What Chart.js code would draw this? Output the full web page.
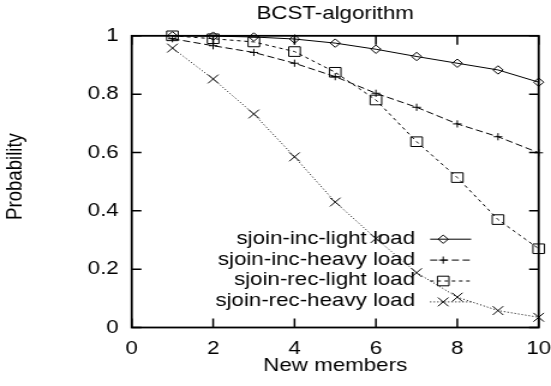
<!DOCTYPE html>
<html>
<head>
<meta charset="utf-8">
<script src="https://cdn.jsdelivr.net/npm/chart.js@4/dist/chart.umd.min.js"></script>
<style>
  html, body { margin: 0; padding: 0; background: #fff; overflow: hidden; }
</style>
</head>
<body>
<!-- gnuplot output was stretched sideways, so the bitmap is widened a bit -->
<canvas id="c" width="459" height="386" style="width:551px;height:386px;display:block"></canvas>
<script>
// ---- data ----
const members = [1, 2, 3, 4, 5, 6, 7, 8, 9, 10];
const incLight = [1.0, 0.999, 0.996, 0.989, 0.975, 0.954, 0.929, 0.906, 0.883, 0.841];
const incHeavy = [0.99, 0.966, 0.943, 0.906, 0.86, 0.803, 0.755, 0.698, 0.654, 0.599];
const recLight = [1.0, 0.99, 0.979, 0.946, 0.875, 0.78, 0.637, 0.514, 0.37, 0.27];
const recHeavy = [0.958, 0.852, 0.732, 0.585, 0.43, 0.305, 0.188, 0.104, 0.058, 0.035];
const seriesLabels = ['sjoin-inc-light load', 'sjoin-inc-heavy load', 'sjoin-rec-light load', 'sjoin-rec-heavy load'];

const FONT = { family: "'Liberation Sans', Arial, sans-serif", size: 18.6, weight: 'normal' };
Chart.defaults.color = '#000';
Chart.defaults.font.family = FONT.family;

const pts = ys => members.map((x, i) => ({ x, y: ys[i] }));

function series(label, ys, dash, style, radius) {
  return {
    label,
    data: pts(ys),
    borderColor: '#000',
    borderWidth: 1,
    borderDash: dash,
    tension: 0,
    fill: false,
    clip: false,
    pointStyle: style,
    pointRadius: radius,
    pointBorderColor: '#000',
    pointBackgroundColor: 'rgba(0,0,0,0)',
    pointBorderWidth: 1,
  };
}

// gnuplot style frame with inward mirrored ticks
const framePlugin = {
  id: 'frame',
  afterDatasetsDraw(chart) {
    const { ctx, chartArea: { left, right, top, bottom } } = chart;
    const xs = chart.scales.x, ys = chart.scales.y;
    ctx.save();
    ctx.strokeStyle = '#000';
    ctx.lineWidth = 1.8;
    ctx.setLineDash([]);
    ctx.strokeRect(left, top, right - left, bottom - top);
    ctx.lineWidth = 1.5;
    ctx.beginPath();
    xs.ticks.forEach(t => {
      const px = xs.getPixelForValue(t.value);
      ctx.moveTo(px, bottom); ctx.lineTo(px, bottom - 9);
      ctx.moveTo(px, top); ctx.lineTo(px, top + 9);
    });
    ys.ticks.forEach(t => {
      const py = ys.getPixelForValue(t.value);
      ctx.moveTo(left, py); ctx.lineTo(left + 8, py);
      ctx.moveTo(right, py); ctx.lineTo(right - 8, py);
    });
    ctx.stroke();
    ctx.restore();
  }
};

// legend: right aligned text with line sample on its right
const keyPlugin = {
  id: 'key',
  afterDraw(chart) {
    const { ctx } = chart;
    ctx.save();
    ctx.font = `${FONT.size}px ${FONT.family}`;
    ctx.textAlign = 'right';
    ctx.textBaseline = 'middle';
    chart.data.datasets.forEach((ds, i) => {
      const y = 238.5 + i * 20.9;
      ctx.fillStyle = '#000';
      ctx.fillText(ds.label, 345.8, y);
      ctx.strokeStyle = '#000';
      ctx.lineWidth = 1;
      ctx.setLineDash(ds.borderDash || []);
      ctx.beginPath();
      ctx.moveTo(358.3, y + 0.7);
      ctx.lineTo(392.5, y + 0.7);
      ctx.stroke();
      ctx.setLineDash([]);
      ctx.fillStyle = 'rgba(0,0,0,0)';
      Chart.helpers.drawPoint(ctx, {
        pointStyle: ds.pointStyle, radius: ds.pointRadius, rotation: 0, borderWidth: 1
      }, 369.2, y + 0.7);
    });
    ctx.restore();
  }
};

new Chart(document.getElementById('c'), {
  type: 'line',
  data: {
    datasets: [
      series(seriesLabels[0], incLight, [], 'rectRot', 4.2),
      series(seriesLabels[1], incHeavy, [6, 3], 'cross', 3.6),
      series(seriesLabels[2], recLight, [3, 3], 'rect', 6.8),
      series(seriesLabels[3], recHeavy, [1, 2], 'crossRot', 6.2),
    ],
  },
  options: {
    responsive: false,
    devicePixelRatio: 1,
    animation: false,
    layout: { padding: { left: 0, right: 0, top: 0, bottom: 0 } },
    scales: {
      x: {
        type: 'linear',
        min: 0, max: 10,
        grid: { display: false, drawTicks: false },
        border: { display: false },
        ticks: { stepSize: 2, padding: 9.8, font: FONT, color: '#000', maxRotation: 0 },
        title: { display: true, text: 'New members', font: FONT, color: '#000', padding: { top: 0, bottom: 8.5 } },
        afterFit(scale) {
          scale.height = 58.5;
          // gnuplot lets the "10" label overhang, keep the plot wide
          scale.paddingLeft = 0;
          scale.paddingRight = 10.25;
        },
      },
      y: {
        min: 0, max: 1,
        grid: { display: false, drawTicks: false },
        border: { display: false },
        ticks: {
          stepSize: 0.2, padding: 10.8, font: FONT, color: '#000',
          callback: v => String(Number(v.toFixed(1))),
        },
        title: { display: true, text: '  Probability', font: FONT, color: '#000', padding: { top: 2.2, bottom: 0 } },
        afterFit(scale) { scale.width = 109.75; },
      },
    },
    plugins: {
      legend: { display: false },
      tooltip: { enabled: false },
      title: {
        display: true,
        text: 'BCST-algorithm',
        fullSize: false,
        font: FONT,
        color: '#000',
        padding: { top: 2.8, bottom: 10.7 },
      },
    },
  },
  plugins: [framePlugin, keyPlugin],
});
</script>
</body>
</html>
